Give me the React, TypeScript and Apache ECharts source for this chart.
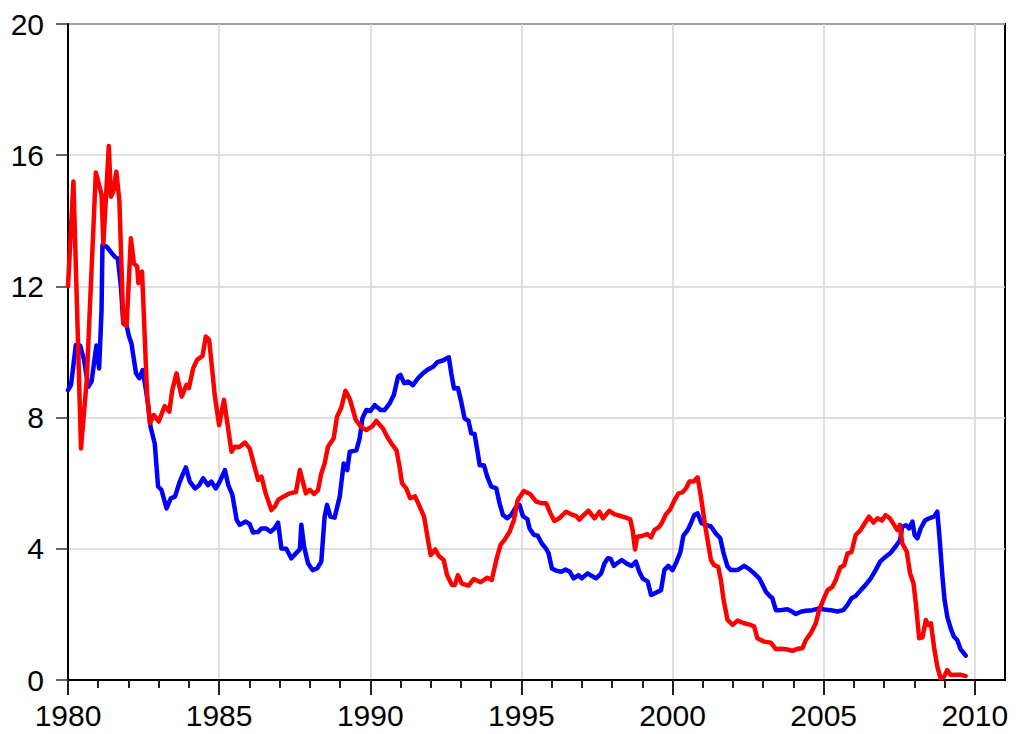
import React, { useEffect, useRef } from "react";
import * as echarts from "echarts";

const xMajorTicks = [1980, 1985, 1990, 1995, 2000, 2005, 2010];
const xMinorTicks = [1981,1982,1983,1984,1986,1987,1988,1989,1991,1992,1993,1994,1996,1997,1998,1999,2001,2002,2003,2004,2006,2007,2008,2009];

const redT = [1980.0,1980.18,1980.43,1980.62,1980.92,1981.11,1981.17,1981.35,1981.42,1981.5,1981.6,1981.7,1981.83,1981.94,1982.08,1982.18,1982.29,1982.33,1982.45,1982.62,1982.71,1982.84,1983.0,1983.2,1983.35,1983.45,1983.59,1983.76,1983.92,1984.0,1984.14,1984.27,1984.45,1984.56,1984.67,1984.86,1985.0,1985.16,1985.41,1985.52,1985.67,1985.85,1986.01,1986.29,1986.4,1986.54,1986.73,1986.85,1986.96,1987.15,1987.34,1987.54,1987.67,1987.87,1988.0,1988.14,1988.27,1988.38,1988.49,1988.6,1988.79,1988.9,1989.04,1989.18,1989.33,1989.52,1989.7,1989.87,1990.07,1990.2,1990.42,1990.57,1990.7,1990.87,1990.97,1991.05,1991.19,1991.32,1991.48,1991.61,1991.78,1991.91,1992.0,1992.15,1992.27,1992.43,1992.54,1992.7,1992.8,1992.9,1993.03,1993.25,1993.43,1993.65,1993.87,1994.02,1994.17,1994.31,1994.44,1994.61,1994.75,1994.88,1995.08,1995.3,1995.49,1995.63,1995.82,1995.95,1996.09,1996.25,1996.48,1996.65,1996.81,1996.92,1997.03,1997.22,1997.42,1997.58,1997.7,1997.91,1998.07,1998.28,1998.46,1998.6,1998.68,1998.76,1998.83,1998.99,1999.16,1999.29,1999.4,1999.56,1999.64,1999.78,1999.92,2000.07,2000.2,2000.33,2000.45,2000.56,2000.7,2000.83,2000.94,2001.05,2001.16,2001.27,2001.38,2001.51,2001.6,2001.69,2001.82,2001.99,2002.15,2002.37,2002.59,2002.7,2002.81,2003.03,2003.25,2003.42,2003.58,2003.8,2003.97,2004.13,2004.3,2004.41,2004.57,2004.74,2004.85,2005.01,2005.13,2005.29,2005.4,2005.55,2005.68,2005.79,2005.92,2006.06,2006.22,2006.36,2006.5,2006.65,2006.78,2006.93,2007.05,2007.19,2007.33,2007.44,2007.52,2007.6,2007.75,2007.86,2007.97,2008.05,2008.16,2008.27,2008.38,2008.46,2008.55,2008.65,2008.76,2008.87,2008.98,2009.09,2009.2,2009.37,2009.53,2009.7];
const redV = [12.0,15.2,7.06,9.15,15.47,14.8,13.3,16.28,14.73,14.9,15.5,14.6,10.87,10.8,13.47,12.7,12.6,12.1,12.45,8.64,7.83,8.08,7.88,8.35,8.18,8.84,9.35,8.64,9.0,8.9,9.5,9.76,9.88,10.47,10.37,8.64,7.77,8.54,6.96,7.11,7.1,7.24,7.06,6.1,6.2,5.69,5.18,5.3,5.5,5.6,5.69,5.73,6.4,5.69,5.8,5.67,5.78,6.3,6.6,7.11,7.37,8.03,8.3,8.82,8.55,7.93,7.72,7.62,7.74,7.9,7.67,7.4,7.21,7.0,6.5,6.0,5.84,5.54,5.6,5.34,4.98,4.27,3.81,3.98,3.78,3.66,3.2,2.9,2.9,3.2,2.94,2.88,3.08,2.98,3.12,3.05,3.66,4.12,4.27,4.52,4.87,5.49,5.76,5.66,5.44,5.4,5.39,5.1,4.85,4.93,5.13,5.05,5.0,4.89,5.0,5.16,4.93,5.13,4.93,5.16,5.06,5.0,4.95,4.9,4.57,3.98,4.37,4.39,4.45,4.35,4.57,4.67,4.78,5.05,5.2,5.49,5.69,5.72,5.85,6.05,6.05,6.18,5.59,4.88,4.27,3.66,3.5,3.45,3.05,2.44,1.83,1.68,1.81,1.73,1.68,1.63,1.27,1.17,1.14,0.94,0.95,0.93,0.89,0.95,0.97,1.22,1.42,1.73,2.13,2.49,2.74,2.84,3.05,3.43,3.5,3.86,3.9,4.42,4.57,4.78,4.98,4.8,4.93,4.86,5.03,4.93,4.73,4.57,4.73,4.17,3.91,3.25,2.96,2.34,1.27,1.3,1.83,1.68,1.73,1.02,0.41,0.05,0.1,0.3,0.15,0.16,0.16,0.12];

const blueT = [1980.0,1980.1,1980.26,1980.4,1980.53,1980.67,1980.78,1980.89,1980.94,1981.03,1981.11,1981.14,1981.28,1981.41,1981.55,1981.65,1981.75,1981.83,1981.94,1982.02,1982.1,1982.25,1982.36,1982.47,1982.58,1982.66,1982.73,1982.87,1982.98,1983.09,1983.26,1983.4,1983.54,1983.68,1983.81,1983.9,1984.03,1984.2,1984.34,1984.47,1984.63,1984.74,1984.89,1985.02,1985.19,1985.3,1985.44,1985.58,1985.68,1985.88,1986.01,1986.12,1986.28,1986.4,1986.56,1986.7,1986.83,1986.95,1987.06,1987.22,1987.39,1987.54,1987.67,1987.72,1987.81,1987.94,1988.09,1988.24,1988.38,1988.49,1988.57,1988.68,1988.82,1988.99,1989.12,1989.24,1989.32,1989.54,1989.65,1989.74,1989.87,1990.0,1990.15,1990.34,1990.47,1990.64,1990.78,1990.92,1991.0,1991.12,1991.25,1991.41,1991.58,1991.74,1991.91,1992.08,1992.22,1992.4,1992.6,1992.68,1992.77,1992.9,1993.01,1993.12,1993.25,1993.34,1993.45,1993.56,1993.62,1993.76,1993.87,1994.0,1994.17,1994.28,1994.39,1994.53,1994.66,1994.83,1994.94,1995.05,1995.2,1995.27,1995.41,1995.54,1995.67,1995.82,1995.9,1996.01,1996.16,1996.32,1996.46,1996.6,1996.73,1996.89,1997.0,1997.19,1997.32,1997.47,1997.64,1997.75,1997.86,1997.95,1998.06,1998.17,1998.32,1998.5,1998.65,1998.79,1998.9,1999.01,1999.18,1999.29,1999.4,1999.62,1999.73,1999.86,2000.0,2000.13,2000.26,2000.36,2000.5,2000.61,2000.72,2000.83,2000.96,2001.1,2001.27,2001.43,2001.58,2001.69,2001.82,2001.93,2002.15,2002.37,2002.54,2002.7,2002.87,2002.98,2003.09,2003.24,2003.3,2003.42,2003.58,2003.8,2003.97,2004.08,2004.24,2004.41,2004.63,2004.85,2005.02,2005.24,2005.45,2005.65,2005.79,2005.92,2006.06,2006.23,2006.39,2006.56,2006.72,2006.87,2007.05,2007.22,2007.38,2007.53,2007.6,2007.72,2007.83,2007.94,2008.01,2008.1,2008.21,2008.35,2008.49,2008.65,2008.76,2008.84,2008.93,2009.0,2009.09,2009.2,2009.31,2009.42,2009.53,2009.7];
const blueV = [8.84,9.0,10.21,10.2,9.76,8.94,9.1,9.86,10.2,9.5,11.28,13.26,13.21,13.06,12.9,12.85,12.0,10.87,10.8,10.47,10.26,9.35,9.2,9.45,8.84,8.33,7.72,7.21,5.9,5.8,5.23,5.54,5.59,6.0,6.3,6.48,6.05,5.84,5.94,6.15,5.94,6.05,5.84,6.05,6.4,5.95,5.64,4.88,4.73,4.83,4.75,4.5,4.51,4.62,4.62,4.52,4.62,4.8,4.01,4.0,3.71,3.86,3.98,4.73,4.07,3.56,3.35,3.4,3.61,4.98,5.34,4.98,4.95,5.59,6.6,6.4,6.96,7.0,7.37,7.98,8.23,8.2,8.38,8.23,8.23,8.43,8.69,9.25,9.3,9.05,9.1,8.99,9.2,9.35,9.47,9.55,9.69,9.74,9.84,9.35,8.89,8.9,8.48,7.98,7.9,7.52,7.5,6.91,6.55,6.55,6.2,5.9,5.84,5.38,5.03,4.93,5.03,5.28,5.33,5.0,4.9,4.62,4.43,4.4,4.17,4.0,3.86,3.4,3.33,3.3,3.37,3.3,3.1,3.2,3.1,3.25,3.18,3.1,3.25,3.56,3.71,3.7,3.48,3.56,3.66,3.54,3.48,3.61,3.3,3.1,3.0,2.59,2.64,2.74,3.35,3.48,3.35,3.6,3.9,4.4,4.57,4.78,5.03,5.08,4.78,4.73,4.68,4.47,4.32,3.86,3.46,3.35,3.35,3.48,3.38,3.25,3.1,2.9,2.69,2.54,2.5,2.13,2.13,2.16,2.08,2.01,2.08,2.11,2.13,2.18,2.15,2.13,2.09,2.13,2.29,2.49,2.56,2.74,2.9,3.1,3.35,3.61,3.76,3.88,4.07,4.27,4.67,4.72,4.62,4.83,4.42,4.32,4.62,4.86,4.93,4.98,5.13,4.27,3.15,2.44,1.93,1.58,1.32,1.22,0.94,0.74];

const FONT = '"Liberation Sans", Arial, sans-serif';

export default function App() {
  const ref = useRef<HTMLDivElement>(null);
  useEffect(() => {
    if (!ref.current) return;
    const chart = echarts.init(ref.current, null, { renderer: "svg" });
    const zip = (t: number[], v: number[]) => t.map((x, i) => [x, v[i]]);
    chart.setOption({
      animation: false,
      backgroundColor: "#fff",
      grid: {
        left: 68, right: 12, top: 24, bottom: 54,
        show: true, borderColor: "#000", borderWidth: 2, backgroundColor: "transparent",
      },
      xAxis: [
        {
          type: "value", min: 1980, max: 2011, interval: 5,
          axisLine: { show: true, lineStyle: { color: "#000", width: 2 } },
          axisTick: { show: true, inside: false, length: 15, customValues: xMajorTicks, lineStyle: { color: "#222", width: 2 } },
          axisLabel: { show: true, customValues: xMajorTicks, margin: 20, fontSize: 30, color: "#000", fontFamily: FONT, formatter: (v: number) => String(v) },
          splitLine: { show: true, lineStyle: { color: "#d4d4d4", width: 1.5 } },
        },
        {
          type: "value", min: 1980, max: 2011, position: "bottom",
          axisLine: { show: false },
          axisTick: { show: true, inside: false, length: 8, customValues: xMinorTicks, lineStyle: { color: "#222", width: 2 } },
          axisLabel: { show: false },
          splitLine: { show: false },
        },
      ],
      yAxis: {
        type: "value", min: 0, max: 20, interval: 4,
        axisLine: { show: true, lineStyle: { color: "#000", width: 2 } },
        axisTick: { show: true, inside: false, length: 12, lineStyle: { color: "#333", width: 1.5 } },
        axisLabel: { margin: 24, fontSize: 30, color: "#000", fontFamily: FONT },
        splitLine: { show: true, lineStyle: { color: "#d4d4d4", width: 1.5 } },
      },
      series: [
        {
          type: "line", name: "blue", xAxisIndex: 0, data: zip(blueT, blueV), showSymbol: false, symbol: "none",
          lineStyle: { color: "#0000ff", width: 4.5, join: "round", cap: "round" },
        },
        {
          type: "line", name: "red", xAxisIndex: 0, data: zip(redT, redV), showSymbol: false, symbol: "none",
          lineStyle: { color: "#ff0000", width: 4.5, join: "round", cap: "round" },
        },
      ],
    });
    return () => chart.dispose();
  }, []);
  return <div ref={ref} style={{ position: "fixed", left: 0, top: 0, width: 1017, height: 734 }} />;
}
